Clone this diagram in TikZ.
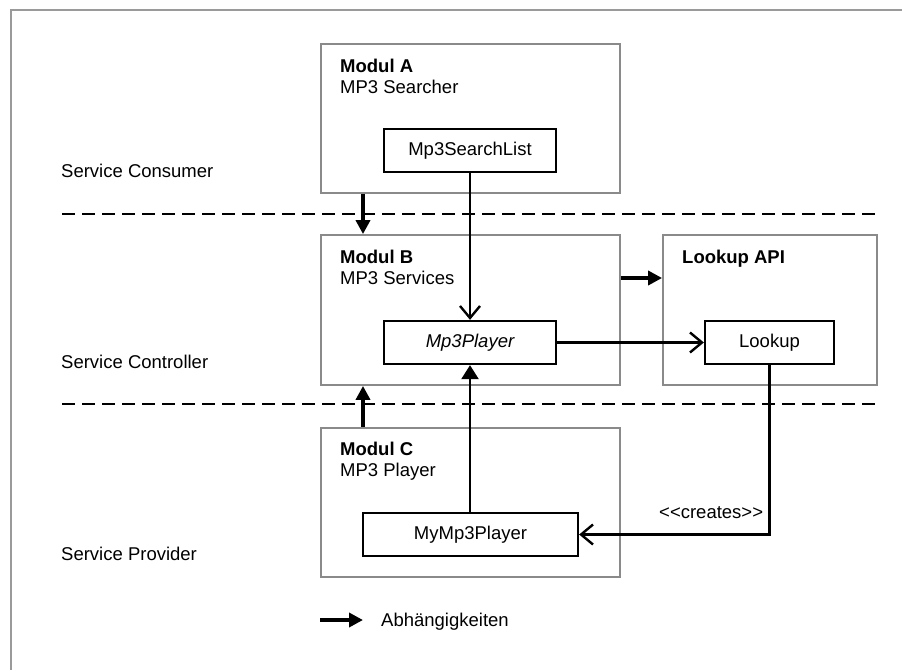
\documentclass[tikz,border=0pt]{standalone}
\usepackage{fontspec}
\setmainfont{Liberation Sans}
\newfontfamily\plainfont{Liberation Sans}[Ligatures=TeXOff]
\usetikzlibrary{arrows.meta}
\definecolor{frame}{HTML}{9A9A9A}
\definecolor{modgray}{HTML}{8A8A8A}
\tikzset{
  modbox/.style={draw=modgray, line width=1.8pt, fill=white, inner sep=0pt},
  clsbox/.style={draw=black, line width=2.3pt, fill=white, inner sep=0pt, minimum height=43pt, font=\fontsize{18.5}{22}\selectfont},
  lbl/.style={anchor=base west, inner sep=0pt, font=\fontsize{18.5}{22}\selectfont},
  blbl/.style={lbl, font=\fontsize{18.5}{22}\selectfont\bfseries},
  call/.style={draw=black, line width=2.4pt, -{Straight Barb[length=12pt,width=20pt,line width=2.4pt]}},
  callfill/.style={draw=black, line width=2.4pt, -{Triangle[length=14pt,width=17pt]}},
  dep/.style={draw=black, line width=4.5pt, -{Triangle[length=14pt,width=14pt]}},
  layer/.style={draw=black, line width=2.6pt, dash pattern=on 13pt off 7pt}
}
\begin{document}
\begin{tikzpicture}[x=1pt,y=-1pt]
\useasboundingbox (0,0) rectangle (902,670);
% outer frame (top and left visible)
\coordinate (fTL) at (10.5,9.5);
\coordinate (fTR) at (902,9.5);
\coordinate (fBL) at (10.5,670);
\draw[frame, line width=2pt] (fTR) -- (fTL) -- (fBL);

% layer separators
\coordinate (d1a) at (62,214);
\coordinate (d1b) at (878,214);
\coordinate (d2a) at (62,404);
\coordinate (d2b) at (876,404);
\draw[layer] (d1a) -- (d1b);
\draw[layer] (d2a) -- (d2b);

% layer labels
\node[lbl] (lc) at (61,177) {Service Consumer};
\node[lbl] (lctl) at (61,368) {Service Controller};
\node[lbl] (lp) at (61,560) {Service Provider};

% modules
\node[modbox, minimum width=299pt, minimum height=149pt] (A) at (470.5,118.5) {};
\node[modbox, minimum width=299pt, minimum height=150pt] (B) at (470.5,310) {};
\node[modbox, minimum width=299pt, minimum height=149pt] (C) at (470.5,502.5) {};
\node[modbox, minimum width=214pt, minimum height=150pt] (API) at (770,310) {};

\node[blbl] (At) at (340,72) {Modul A};
\node[lbl] (As) at (340,93) {MP3 Searcher};
\node[blbl] (Bt) at (340,263) {Modul B};
\node[lbl] (Bs) at (340,284) {MP3 Services};
\node[blbl] (Ct) at (340,455) {Modul C};
\node[lbl] (Cs) at (340,476) {MP3 Player};
\node[blbl] (APIt) at (682,263) {Lookup API};

% classes
\node[clsbox, minimum width=172pt] (SL) at (470,150.5) {Mp3SearchList};
\node[clsbox, minimum width=172pt] (MP) at (470,342.5) {\itshape Mp3Player};
\node[clsbox, minimum width=129pt] (LU) at (769.5,342.5) {Lookup};
\node[clsbox, minimum width=215pt] (MY) at (470.5,534.5) {MyMp3Player};

% call connectors
\draw[call] (SL.south) -- (MP.north);
\draw[call] (MP.east) -- (LU.west);
\draw[callfill] (MY.north -| MP.south) -- (MP.south);
\draw[call] (LU.south) |- (MY.east);
\node[anchor=base west, inner sep=0pt, font=\plainfont\fontsize{18.5}{22}\selectfont] (cr) at (659,518) {<<creates>>};

% dependency arrows
\coordinate (depx) at (363,0);
\coordinate (depy) at (0,278);
\draw[dep] (A.south -| depx) -- (B.north -| depx);
\draw[dep] (C.north -| depx) -- (B.south -| depx);
\draw[dep] (B.east |- depy) -- (API.west |- depy);

% legend
\coordinate (lg1) at (320,620);
\coordinate (lg2) at (363,620);
\draw[dep] (lg1) -- (lg2);
\node[lbl] (lgt) at (381,626) {Abhängigkeiten};
\end{tikzpicture}
\end{document}
